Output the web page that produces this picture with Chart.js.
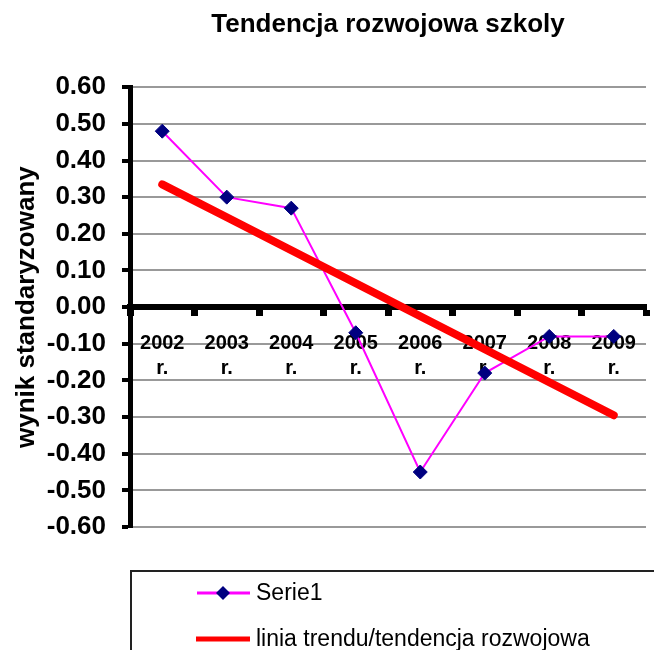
<!DOCTYPE html>
<html>
<head>
<meta charset="utf-8">
<script src="https://cdn.jsdelivr.net/npm/chart.js@4.4.1/dist/chart.umd.min.js"></script>
<style>
  html, body { margin: 0; padding: 0; background: #fff; }
  canvas { display: block; }
</style>
</head>
<body>
<canvas id="chart" width="654" height="650"></canvas>
<script>
// ==================== DATA ====================
const years = [['2002', 'r.'], ['2003', 'r.'], ['2004', 'r.'], ['2005', 'r.'], ['2006', 'r.'], ['2007', 'r.'], ['2008', 'r.'], ['2009', 'r.']];
const serie1 = [0.48, 0.30, 0.27, -0.07, -0.45, -0.18, -0.08, -0.08];
const trend = [0.335, 0.245, 0.155, 0.065, -0.025, -0.115, -0.205, -0.295];
const yTicks = [0.6, 0.5, 0.4, 0.3, 0.2, 0.1, 0, -0.1, -0.2, -0.3, -0.4, -0.5, -0.6];

Chart.defaults.font.family = '"Liberation Sans", Arial, sans-serif';
Chart.defaults.color = '#000';

// ==================== LEGEND (boxed, under the plot) ====================
const legendBox = {
  id: 'legendBox',
  afterDraw(chart) {
    const ctx = chart.ctx;
    const sets = chart.data.datasets;
    ctx.save();
    ctx.strokeStyle = '#222';
    ctx.lineWidth = 2;
    ctx.strokeRect(131, 571, 560, 120);

    ctx.font = '23px "Liberation Sans", Arial, sans-serif';
    ctx.fillStyle = '#000';
    ctx.textBaseline = 'middle';

    // Serie1: magenta line with navy diamond
    ctx.strokeStyle = sets[0].borderColor;
    ctx.lineWidth = 3;
    ctx.beginPath(); ctx.moveTo(197, 593); ctx.lineTo(250, 593); ctx.stroke();
    ctx.fillStyle = sets[0].pointBackgroundColor;
    ctx.beginPath();
    ctx.moveTo(223, 586); ctx.lineTo(230, 593); ctx.lineTo(223, 600); ctx.lineTo(216, 593);
    ctx.closePath(); ctx.fill();
    ctx.fillStyle = '#000';
    ctx.fillText(sets[0].label, 256, 594);

    // trend line
    ctx.strokeStyle = sets[1].borderColor;
    ctx.lineWidth = 5;
    ctx.beginPath(); ctx.moveTo(196, 639); ctx.lineTo(250, 639); ctx.stroke();
    ctx.fillText(sets[1].label, 256, 640);
    ctx.restore();
  }
};

// ==================== CHART ====================
new Chart(document.getElementById('chart'), {
  type: 'line',
  data: {
    labels: years,
    datasets: [
      {
        label: 'Serie1',
        data: serie1,
        borderColor: '#ff00ff',
        borderWidth: 2,
        pointStyle: 'rectRot',
        pointRadius: 7,
        pointBackgroundColor: '#000080',
        pointBorderColor: '#000080',
        pointBorderWidth: 1,
        tension: 0,
        order: 1
      },
      {
        label: 'linia trendu/tendencja rozwojowa',
        data: trend,
        borderColor: '#ff0000',
        borderWidth: 8,
        borderCapStyle: 'round',
        pointRadius: 0,
        tension: 0,
        order: 0
      }
    ]
  },
  options: {
    responsive: false,
    animation: false,
    events: [],
    layout: { padding: { left: 0, right: 5, top: 0, bottom: 123 } },
    plugins: {
      legend: { display: false },
      tooltip: { enabled: false },
      title: {
        display: true,
        text: 'Tendencja rozwojowa szkoly',
        fullSize: false,
        color: '#000',
        font: { size: 26, weight: 'bold', lineHeight: 1.2 },
        padding: { top: 9, bottom: 47 }
      }
    },
    scales: {
      x: {
        type: 'category',
        offset: true,
        position: { y: 0 },
        grid: { drawOnChartArea: false, drawTicks: true, tickLength: 6, tickWidth: 7, tickColor: '#000', offset: true },
        border: { color: '#000', width: 6 },
        ticks: {
          color: '#000',
          font: { size: 20, weight: 'bold', lineHeight: 1.25 },
          padding: 18,
          maxRotation: 0,
          autoSkip: false
        },
        afterFit(s) { s.paddingLeft = 0; s.paddingRight = 0; }
      },
      y: {
        min: -0.6,
        max: 0.6,
        afterFit(s) { s.width = 130; },
        afterBuildTicks(s) { s.ticks = yTicks.map(v => ({ value: v })); },
        grid: {
          color: c => (c.tick && c.tick.value === 0) ? '#000' : '#999',
          lineWidth: c => (c.tick && c.tick.value === 0) ? 6 : 2,
          tickColor: '#000',
          tickLength: 8,
          tickWidth: 4
        },
        border: { color: '#000', width: 5 },
        ticks: {
          color: '#000',
          padding: 16,
          font: { size: 26, weight: 'bold' },
          callback: v => v.toFixed(2)
        },
        title: {
          display: true,
          text: 'wynik standaryzowany',
          color: '#000',
          font: { size: 26, weight: 'bold' },
          padding: { top: 11, bottom: 0 }
        }
      }
    }
  },
  plugins: [legendBox]
});
</script>
</body>
</html>
